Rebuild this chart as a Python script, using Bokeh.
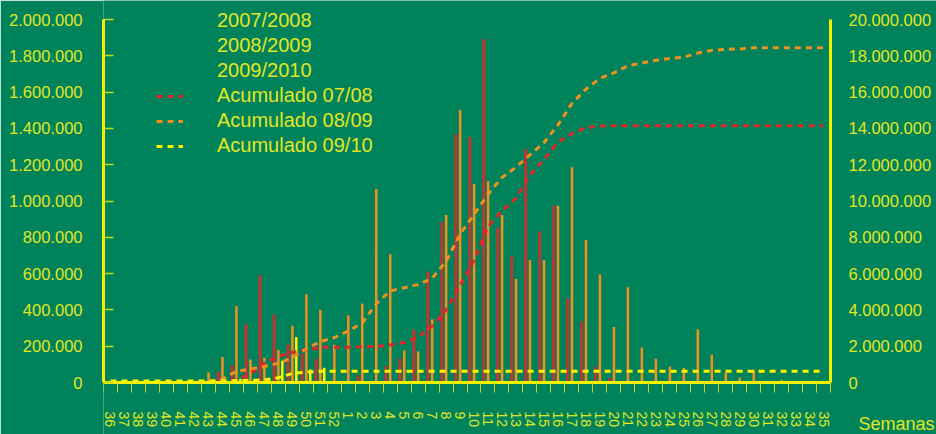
from bokeh.plotting import figure
from bokeh.models import Range1d, LinearAxis, FixedTicker, Legend, LegendItem, Label
from bokeh.embed import file_html
from bokeh.resources import INLINE
import numpy as np

# ---- data -------------------------------------------------------------
weeks = ["36", "37", "38", "39", "40", "41", "42", "43", "44", "45", "46", "47",
         "48", "49", "50", "51", "52", "1", "2", "3", "4", "5", "6", "7", "8",
         "9", "10", "11", "12", "13", "14", "15", "16", "17", "18", "19", "20",
         "21", "22", "23", "24", "25", "26", "27", "28", "29", "30", "31", "32",
         "33", "34", "35"]

# weekly values (thousands)
s0708 = [0, 0, 0, 0, 0, 0, 0, 0, 60, 95, 320, 590, 374, 210, 158, 131, 0,
         0, 39, 0, 90, 133, 291, 611, 884, 1368, 1352, 1893, 853, 696, 1286,
         833, 974, 464, 337, 88, 24, 0, 0, 0, 0, 0, 0, 0, 0, 0, 0, 0, 0, 0, 0, 0]
s0809 = [0, 0, 0, 0, 0, 0, 0, 55, 140, 420, 127, 136, 180, 313, 486, 400, 208,
         370, 435, 1066, 707, 177, 171, 348, 923, 1503, 1094, 1109, 923, 571,
         674, 674, 974, 1186, 785, 595, 306, 525, 192, 131, 88, 81, 293, 153,
         54, 26, 70, 0, 15, 0, 0, 0]
s0910 = [0, 0, 0, 0, 0, 0, 0, 0, 10, 20, 15, 20, 120, 250, 72, 81, 0,
         0, 0, 0, 0, 0, 0, 0, 0, 0, 0, 0, 0, 0, 0, 0, 0, 0, 0, 0, 0, 0, 0, 0,
         0, 0, 0, 0, 0, 0, 0, 0, 0, 0, 0, 0]

# cumulative (millions, right axis)
acum_0708 = [0, 0, 0, 0, 0, 0, 0, 0, 0.06, 0.155, 0.475, 1.065, 1.44, 1.65,
             1.81, 1.94, 1.94, 1.94, 1.98, 1.98, 2.07, 2.20, 2.49, 3.10, 3.99,
             5.35, 6.71, 8.60, 9.45, 10.15, 11.43, 12.27, 13.24, 13.71, 14.04,
             14.13, 14.15, 14.15, 14.15, 14.15, 14.15, 14.15, 14.15, 14.15,
             14.15, 14.15, 14.15, 14.15, 14.15, 14.15, 14.15, 14.15]
acum_0809 = [0, 0, 0, 0, 0, 0, 0, 0.055, 0.195, 0.615, 0.742, 0.878, 1.058,
             1.371, 1.857, 2.257, 2.465, 2.835, 3.27, 4.336, 5.043, 5.22, 5.391,
             5.739, 6.662, 8.165, 9.259, 10.368, 11.291, 11.862, 12.536, 13.21,
             14.184, 15.37, 16.155, 16.75, 17.056, 17.45, 17.6, 17.75, 17.85,
             17.92, 18.15, 18.3, 18.35, 18.38, 18.44, 18.44, 18.45, 18.45,
             18.45, 18.45]
acum_0910 = [0.08, 0.08, 0.08, 0.08, 0.08, 0.08, 0.08, 0.08, 0.09, 0.11, 0.125,
             0.145, 0.26, 0.50, 0.57, 0.62, 0.62, 0.62, 0.62, 0.62, 0.62, 0.62,
             0.62, 0.62, 0.62, 0.62, 0.62, 0.62, 0.62, 0.62, 0.62, 0.62, 0.62,
             0.62, 0.62, 0.62, 0.62, 0.62, 0.62, 0.62, 0.62, 0.62, 0.62, 0.62,
             0.62, 0.62, 0.62, 0.62, 0.62, 0.62, 0.62, 0.62]

series_names = ["2007/2008", "2008/2009", "2009/2010",
                "Acumulado 07/08", "Acumulado 08/09", "Acumulado 09/10"]
x_title = "Semanas"

left_ticks = [0, 200000, 400000, 600000, 800000, 1000000, 1200000, 1400000,
              1600000, 1800000, 2000000]
left_labels = ["0", "200.000", "400.000", "600.000", "800.000", "1.000.000",
               "1.200.000", "1.400.000", "1.600.000", "1.800.000", "2.000.000"]
right_ticks = [0, 2000000, 4000000, 6000000, 8000000, 10000000, 12000000,
               14000000, 16000000, 18000000, 20000000]
right_labels = ["0", "2.000.000", "4.000.000", "6.000.000", "8.000.000",
                "10.000.000", "12.000.000", "14.000.000", "16.000.000",
                "18.000.000", "20.000.000"]

# ---- style / geometry -------------------------------------------------
BG = "#00835A"
TXT = "#E2E624"
AXIS = "#F5F200"
TICK = "#C8D82A"
RED = "#E4252B"
ORANGE = "#F0901E"
YELLOW = "#FFF200"
FONT = "Liberation Sans"

W, H = 936, 434
LEFT = 103            # frame left edge (px)
ZERO_Y = 382          # pixel row of value 0
TOP_Y = 19            # pixel row of the axis maximum
PLOT_W = 727          # width of the category band

n = len(weeks)
idx = np.arange(n)
cat_px = PLOT_W / n
ypp = left_ticks[-1] / (ZERO_Y - TOP_Y)          # value per pixel (left)
x_end = -0.5 + (W - LEFT) / cat_px
y0, y1 = -(H - ZERO_Y) * ypp, ZERO_Y * ypp

p = figure(width=W, height=H, output_backend="svg", toolbar_location=None,
           x_range=Range1d(-0.5, x_end), y_range=Range1d(y0, y1),
           min_border_left=LEFT, min_border_right=0, min_border_top=0,
           min_border_bottom=0, background_fill_color=BG,
           border_fill_color=BG, outline_line_color=None)
p.xgrid.visible = False
p.ygrid.visible = False

# bars
p.vbar(x=idx - 0.3, top=np.array(s0708) * 1000, width=0.18, fill_color=RED,
       line_color=None)
p.vbar(x=idx + 0.01, top=np.array(s0809) * 1000, width=0.18,
       fill_color=ORANGE, line_color=None)
p.vbar(x=idx + 0.29, top=np.array(s0910) * 1000, width=0.18,
       fill_color=YELLOW, line_color=None)

# cumulative lines
p.extra_y_ranges = {"right": Range1d(y0 * 10, y1 * 10)}
l1 = p.line(idx, np.array(acum_0708) * 1e6, y_range_name="right",
            line_color=RED, line_width=3, line_dash="6 5")
l2 = p.line(idx, np.array(acum_0809) * 1e6, y_range_name="right",
            line_color=ORANGE, line_width=3, line_dash="6 5")
l3 = p.line(idx, np.array(acum_0910) * 1e6, y_range_name="right",
            line_color=YELLOW, line_width=3, line_dash="6 5")

# legend-only solid entries
e1 = p.line(x=[], y=[], line_color="#FFF200", line_width=2.5)
e2 = p.line(x=[], y=[], line_color="#FFFFC4", line_width=2.5)
e3 = p.line(x=[], y=[], line_color="#F2F7EA", line_width=2.5)

# bottom axis (fixed at value 0)
xa = p.xaxis[0]
xa.fixed_location = 0
xa.bounds = (-0.5, n - 0.5)
xa.ticker = FixedTicker(ticks=list(idx), minor_ticks=[i - 0.5 for i in range(n + 1)])
xa.major_label_overrides = {int(i): w for i, w in zip(idx, weeks)}
xa.major_label_orientation = "vertical"
xa.major_tick_in = 0
xa.major_tick_out = 0
xa.minor_tick_in = 0
xa.minor_tick_out = 10
xa.minor_tick_line_color = TICK
xa.minor_tick_line_width = 1
xa.axis_line_color = AXIS
xa.axis_line_width = 3
xa.major_label_standoff = 19
xa.major_label_text_font = FONT
xa.major_label_text_font_size = "14px"
xa.major_label_text_color = TXT

# left axis
ya = p.yaxis[0]
ya.bounds = (left_ticks[0], left_ticks[-1])
ya.ticker = FixedTicker(ticks=left_ticks)
ya.major_label_overrides = {t: s for t, s in zip(left_ticks, left_labels)}
ya.major_tick_in = 10
ya.major_tick_out = 0
ya.major_tick_line_color = TICK
ya.major_tick_line_width = 1.5
ya.minor_tick_line_color = None
ya.axis_line_color = AXIS
ya.axis_line_width = 3
ya.major_label_standoff = 21
ya.major_label_text_font = FONT
ya.major_label_text_font_size = "16.5px"
ya.major_label_text_color = TXT

# right axis (fixed at the end of the last week)
ra = LinearAxis(y_range_name="right", ticker=FixedTicker(ticks=right_ticks),
                fixed_location=n - 0.5, bounds=(right_ticks[0], right_ticks[-1]))
ra.major_label_overrides = {t: s for t, s in zip(right_ticks, right_labels)}
ra.major_tick_line_color = None
ra.minor_tick_line_color = None
ra.axis_line_color = AXIS
ra.axis_line_width = 3
ra.major_label_standoff = 12
ra.major_label_text_font = FONT
ra.major_label_text_font_size = "16.5px"
ra.major_label_text_color = TXT
p.add_layout(ra, "right")

# legend
legend = Legend(items=[
    LegendItem(label=series_names[0], renderers=[e1]),
    LegendItem(label=series_names[1], renderers=[e2]),
    LegendItem(label=series_names[2], renderers=[e3]),
    LegendItem(label=series_names[3], renderers=[l1]),
    LegendItem(label=series_names[4], renderers=[l2]),
    LegendItem(label=series_names[5], renderers=[l3]),
], location=(53, 277), padding=0, spacing=2, glyph_width=27, glyph_height=20,
    label_height=20, label_standoff=34, label_text_font=FONT,
    label_text_font_size="20px", label_text_color=TXT,
    background_fill_alpha=0, border_line_alpha=0, margin=0)
p.add_layout(legend)

p.add_layout(Label(x=53.5, y=-(423 - ZERO_Y) * ypp, text=x_title,
                   text_font=FONT, text_font_size="18px", text_color=TXT,
                   text_baseline="middle"))

open("out.html", "w").write(file_html(p, INLINE))
